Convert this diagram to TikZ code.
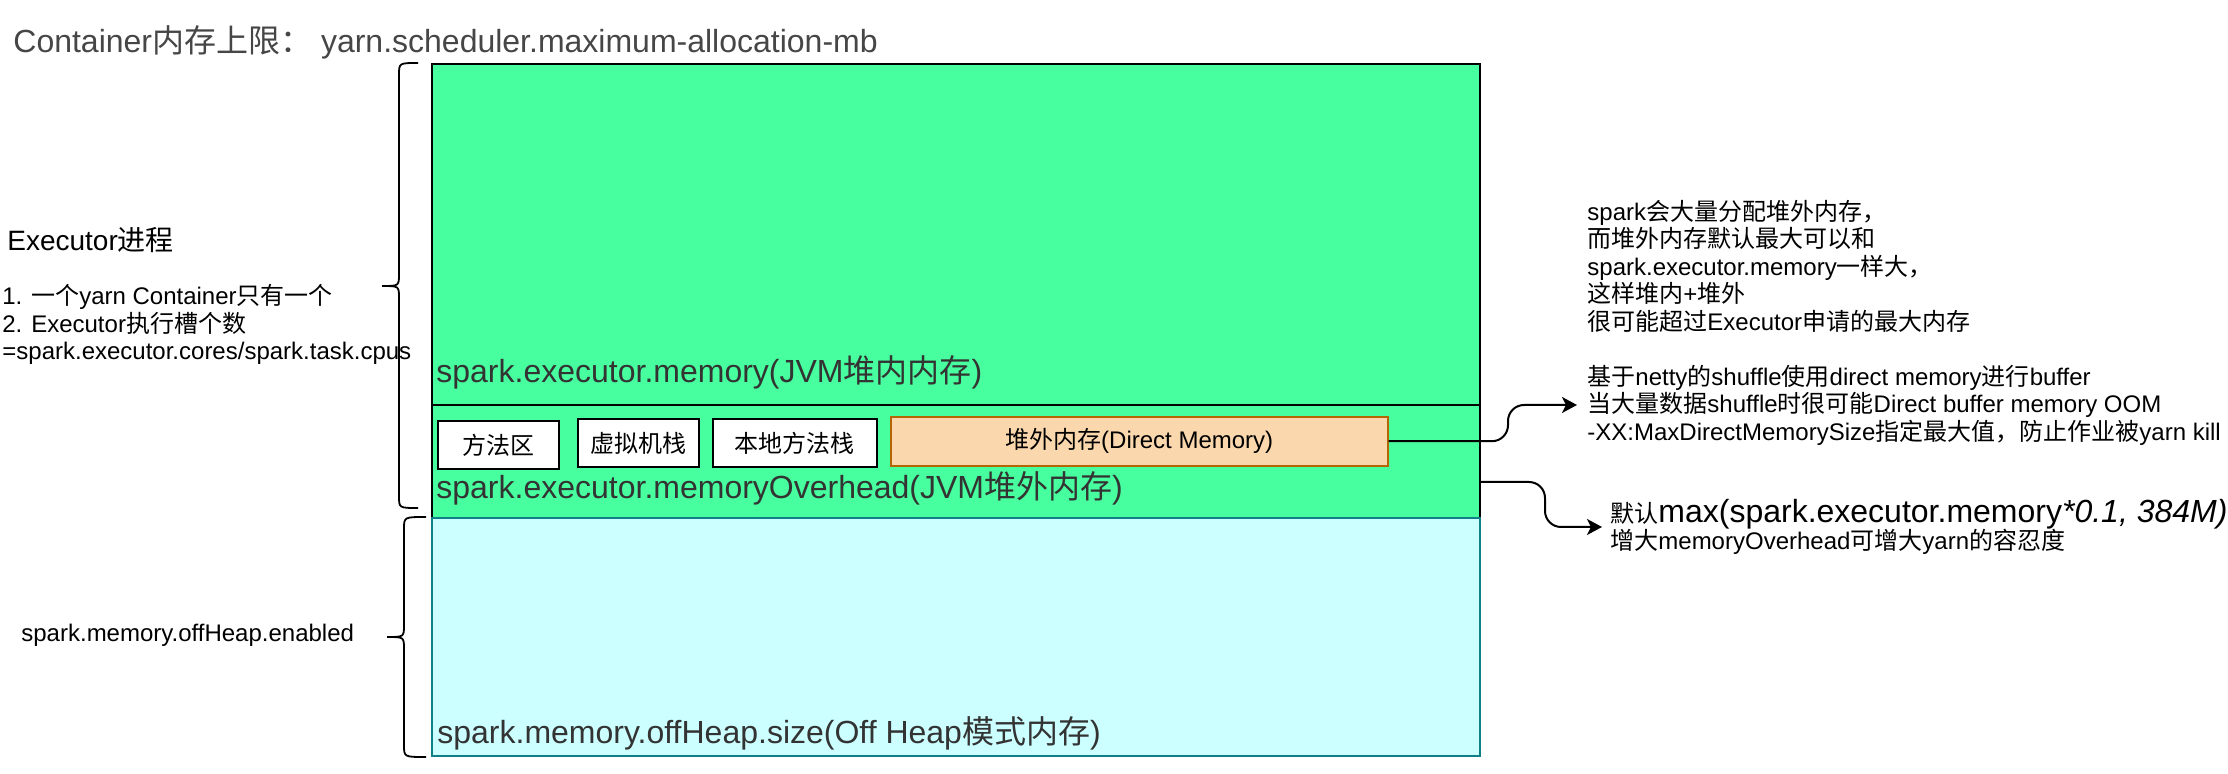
\documentclass[tikz,border=0pt]{standalone}
\usepackage{fontspec}
\setmainfont{Liberation Sans}
\newfontfamily\cjk{Noto Sans CJK SC}
\usetikzlibrary{arrows.meta}
\newcommand\zh[1]{{\cjk #1}}
\definecolor{exgreen}{RGB}{71,255,158}
\definecolor{offcyan}{RGB}{204,255,255}
\definecolor{offteal}{RGB}{14,128,136}
\definecolor{dmfill}{RGB}{250,215,172}
\definecolor{dmline}{RGB}{180,101,4}
\definecolor{lbl}{RGB}{51,51,51}
\definecolor{ttl}{RGB}{70,70,70}
\begin{document}
\begin{tikzpicture}[x=0.5pt,y=-0.5pt,
  memblock/.style={draw, line width=1pt, anchor=north west, inner sep=0pt, minimum width=524pt},
  lbltext/.style={anchor=west, inner sep=0pt, text=lbl, font=\fontsize{16}{19}\selectfont},
  innerbox/.style={draw, line width=1pt, fill=white, inner sep=0pt, minimum height=24.3pt, font=\fontsize{12}{14}\selectfont},
  note/.style={anchor=west, align=left, inner xsep=0pt, inner ysep=0pt, font=\fontsize{12}{13.75}\selectfont},
  plaintext/.style={anchor=west, inner sep=0pt},
  bracepath/.style={line width=0.9pt},
  conn/.style={line width=1pt, rounded corners=8pt, -{Stealth[length=7.5pt,width=8pt,inset=2pt]}},
]
\useasboundingbox (0,0) rectangle (2228,774);

% memory blocks
\node[memblock, fill=exgreen, minimum height=170.5pt] (exe) at (431,63) {};
\node[memblock, fill=exgreen, minimum height=56.5pt] (ovh) at (431,404) {};
\node[memblock, fill=offcyan, draw=offteal, line width=1.2pt, minimum height=119pt] (off) at (431,517) {};

% block labels
\node[lbltext] (exelbl) at (436,372) {spark.executor.memory(JVM\zh{堆内内存})};
\node[lbltext] (ovhlbl) at (436,488) {spark.executor.memoryOverhead(JVM\zh{堆外内存})};
\node[lbltext] (offlbl) at (437,733) {spark.memory.offHeap.size(Off Heap\zh{模式内存})};

% inner boxes
\node[innerbox, minimum width=60.5pt] (fa) at (498.8,444.9) {\zh{方法区}};
\node[innerbox, minimum width=60.35pt] (xu) at (638.7,443) {\zh{虚拟机栈}};
\node[innerbox, minimum width=82pt] (bd) at (794.7,443) {\zh{本地方法栈}};
\node[innerbox, fill=dmfill, draw=dmline, minimum width=248.5pt, minimum height=24.5pt] (dm) at (1139.2,441.2) {\zh{堆外内存}(Direct Memory)};

% left texts
\node[plaintext, text=ttl, font=\fontsize{16}{19}\selectfont] (title) at (13,42) {Container\zh{内存上限：} yarn.scheduler.maximum-allocation-mb};
\node[plaintext, font=\fontsize{14}{17}\selectfont] (exetitle) at (7,240) {Executor\zh{进程}};
\node[note] (exelist) at (2,324.5) {1. \zh{一个}yarn Container\zh{只有一个}\\2. Executor\zh{执行槽个数}\\=spark.executor.cores/spark.task.cpus};
\node[note] (offen) at (21,635) {spark.memory.offHeap.enabled};

% right notes
\node[note] (b1) at (1587,266) {spark\zh{会大量分配堆外内存，}\\\zh{而堆外内存默认最大可以和}\\spark.executor.memory\zh{一样大，}\\\zh{这样堆内}+\zh{堆外}\\\zh{很可能超过}Executor\zh{申请的最大内存}};
\node[note, inner xsep=5pt] (b2) at (1577,405) {\zh{基于}netty\zh{的}shuffle\zh{使用}direct memory\zh{进行}buffer\\\zh{当大量数据}shuffle\zh{时很可能}Direct buffer memory OOM\\-XX:MaxDirectMemorySize\zh{指定最大值，防止作业被}yarn kill};
\node[note, inner xsep=4pt] (b3) at (1602,527) {\zh{默认}{\fontsize{16}{19}\selectfont max(spark.executor.memory\textit{*0.1, 384M)}}\\\zh{增大}memoryOverhead\zh{可增大}yarn\zh{的容忍度}};

% braces
\draw[bracepath] (418,63) .. controls (399,63) .. (399,75) -- (399,274) .. controls (399,286) .. (382,286) .. controls (399,286) .. (399,298) -- (399,496) .. controls (399,508) .. (418,508);
\draw[bracepath] (426,517) .. controls (404,517) .. (404,529) -- (404,625) .. controls (404,637) .. (387,637) .. controls (404,637) .. (404,649) -- (404,745) .. controls (404,757) .. (426,757);

% connectors
\draw[conn] (dm.east) -- ++(59.65pt,0) |- (b2.west);
\draw[conn] ([yshift=-10.25pt]ovh.east) -- ++(32pt,0) |- (b3.west);
\end{tikzpicture}
\end{document}
